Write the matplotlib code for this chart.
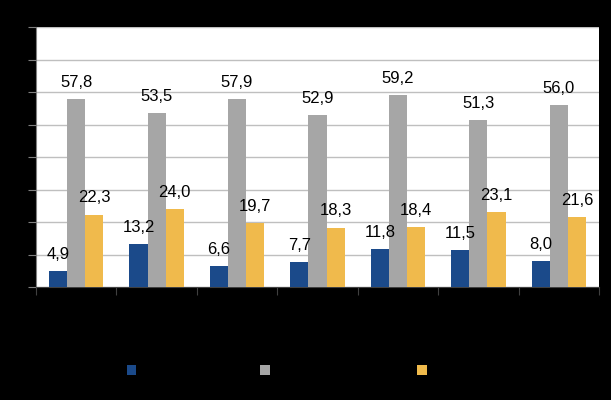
import numpy as np
import matplotlib.pyplot as plt

categories = ['1', '2', '3', '4', '5', '6', '7']
series_names = ['Serie 1', 'Serie 2', 'Serie 3']
blue_vals = [4.9, 13.2, 6.6, 7.7, 11.8, 11.5, 8.0]
gray_vals = [57.8, 53.5, 57.9, 52.9, 59.2, 51.3, 56.0]
yellow_vals = [22.3, 24.0, 19.7, 18.3, 18.4, 23.1, 21.6]
colors = ['#1B4A8A', '#A6A6A6', '#F0BA4C']

fig = plt.figure(figsize=(6.11, 4.0), dpi=100, facecolor='black')
ax = fig.add_axes([0.0589, 0.2825, 0.9215, 0.65])
ax.set_facecolor('white')

x = np.arange(len(categories))
w = 0.225
bars = []
for i, vals in enumerate([blue_vals, gray_vals, yellow_vals]):
    b = ax.bar(x + (i - 1) * w, vals, w, color=colors[i], label=series_names[i], zorder=3)
    bars.append(b)
    for xi, v in zip(x + (i - 1) * w, vals):
        ax.annotate(f'{v:.1f}'.replace('.', ','), (xi, v), xytext=(0, 6.5),
                    textcoords='offset points', ha='center', va='bottom',
                    fontsize=12, color='black', family='Liberation Sans', zorder=5)

ax.set_xlim(-0.5, len(categories) - 0.5)
ax.set_ylim(0, 80)
ax.set_yticks(range(0, 81, 10))
ax.yaxis.grid(True, color='#BFBFBF', linewidth=1, zorder=0)
ax.set_xticks(np.arange(-0.5, len(categories), 1))
ax.set_xticks(x, minor=True)
ax.set_xticklabels([])
ax.set_xticklabels(categories, minor=True, color='black')
ax.tick_params(axis='x', which='major', length=6, color='#404040', direction='out')
ax.tick_params(axis='x', which='minor', length=0)
ax.tick_params(axis='y', length=6, color='#808080', labelcolor='black')
for s in ['top', 'right']:
    ax.spines[s].set_visible(False)
ax.spines['left'].set_color('#808080')
ax.spines['bottom'].set_color('#404040')

legend_x = [0.208, 0.426, 0.683]
for i, b in enumerate(bars):
    fig.legend([b], [series_names[i]], loc='center left',
               bbox_to_anchor=(legend_x[i] - 0.012, 0.0725), frameon=False,
               handlelength=0.7, handleheight=0.7, handletextpad=0.5,
               labelcolor='black', fontsize=10, borderpad=0)

fig.savefig('out.png', dpi=100, facecolor='black')
